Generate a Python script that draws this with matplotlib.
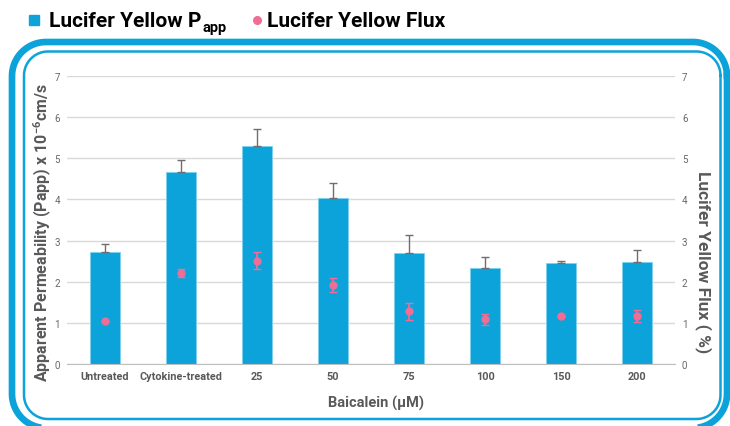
import numpy as np
import matplotlib.pyplot as plt

plt.rcParams['font.family'] = ['Roboto', 'DejaVu Sans']
plt.rcParams['mathtext.fontset'] = 'custom'
plt.rcParams['mathtext.rm'] = 'Roboto'
plt.rcParams['mathtext.bf'] = 'Roboto:bold'

categories = ['Untreated', 'Cytokine-treated', '25', '50', '75', '100', '150', '200']
papp = [2.72, 4.66, 5.29, 4.04, 2.70, 2.33, 2.45, 2.47]
papp_err = [0.20, 0.29, 0.43, 0.36, 0.44, 0.27, 0.05, 0.29]
flux = [1.04, 2.21, 2.51, 1.92, 1.28, 1.09, 1.16, 1.17]
flux_err = [0.0, 0.10, 0.21, 0.18, 0.21, 0.13, 0.0, 0.14]

blue = '#0ba3da'
pink = '#f06d95'
grey = '#595959'


def rounded_rect(x0, y0, x1, y1, r):
    # outline of a rounded rectangle as x, y arrays
    t = np.linspace(0, np.pi / 2, 20)
    xs, ys = [], []
    for cx, cy, a0 in [(x1 - r, y1 - r, 0), (x0 + r, y1 - r, np.pi / 2),
                       (x0 + r, y0 + r, np.pi), (x1 - r, y0 + r, 1.5 * np.pi)]:
        xs.extend(cx + r * np.cos(a0 + t))
        ys.extend(cy + r * np.sin(a0 + t))
    xs.append(xs[0])
    ys.append(ys[0])
    return xs, ys


fig = plt.figure(figsize=(7.3, 4.27), dpi=100)

# background axes in pixel units (y up) for the rounded frame and legend
bg = fig.add_axes([0, 0, 1, 1], zorder=-1)
bg.set_xlim(0, 730)
bg.set_ylim(0, 427)
bg.axis('off')
bg.plot(*rounded_rect(12, -2, 727, 384, 34), color=blue, lw=4.8)
bg.plot(*rounded_rect(24, 7, 720.5, 374.5, 24), color=blue, lw=1.8)

ax = fig.add_axes([67/730, 1 - 365/427, 608/730, 288/427])
x = np.arange(len(categories))
ax.bar(x, papp, width=0.4, color=blue, edgecolor='#7fd0ee', linewidth=0.6, zorder=2)
ax.errorbar(x, papp, yerr=[np.zeros(len(papp)), papp_err], fmt='none',
            ecolor='#6e6e6e', elinewidth=1, capsize=3, zorder=3)

ax2 = ax.twinx()
ax2.errorbar(x, flux, yerr=flux_err, fmt='o', color=pink, ms=5,
             ecolor=pink, elinewidth=1.2, capsize=3, zorder=4)

for a in (ax, ax2):
    a.set_ylim(0, 7)
    a.set_yticks(range(8))
    for s in a.spines.values():
        s.set_visible(False)
    a.tick_params(axis='y', length=0, labelsize=7, labelcolor='#666666', pad=5)
ax.set_xlim(-0.5, 7.5)
ax.spines['bottom'].set_visible(True)
ax.spines['bottom'].set_color('#bfbfbf')
ax.grid(axis='y', color='#d9d9d9', linewidth=1, zorder=0)
ax.set_axisbelow(True)
ax.set_xticks(x)
ax.set_xticklabels(categories, fontsize=7.8, fontweight='bold', color=grey)
ax.tick_params(axis='x', length=0, pad=5)

fig.text(43/730, 1 - 233/427, 'Apparent Permeability (Papp) x 10$^{\\mathbf{-6}}$cm/s',
         rotation=90, ha='center', va='center', fontsize=11.5,
         fontweight='bold', color=grey)
fig.text(703/730, 1 - 262/427, 'Lucifer Yellow Flux ( %)', rotation=-90,
         ha='center', va='center', fontsize=12.5, fontweight='bold', color=grey)
fig.text(376/730, 1 - 403/427, 'Baicalein (µM)', ha='center', va='center',
         fontsize=10.5, fontweight='bold', color=grey)

# legend, laid out by hand
bg.plot(34, 406, 's', color=blue, ms=7)
bg.plot(257, 406, 'o', color=pink, ms=5.5)
t1 = bg.text(49, 400, 'Lucifer Yellow P', fontsize=15, fontweight='bold',
             va='baseline', color='black')
bg.text(267, 400, 'Lucifer Yellow Flux', fontsize=15, fontweight='bold',
        va='baseline', color='black')
fig.canvas.draw()
x_end = bg.transData.inverted().transform(t1.get_window_extent().p1)[0]
bg.text(x_end + 1, 395, 'app', fontsize=10.5, fontweight='bold',
        va='baseline', color='black')

fig.savefig('out.png', dpi=100)
